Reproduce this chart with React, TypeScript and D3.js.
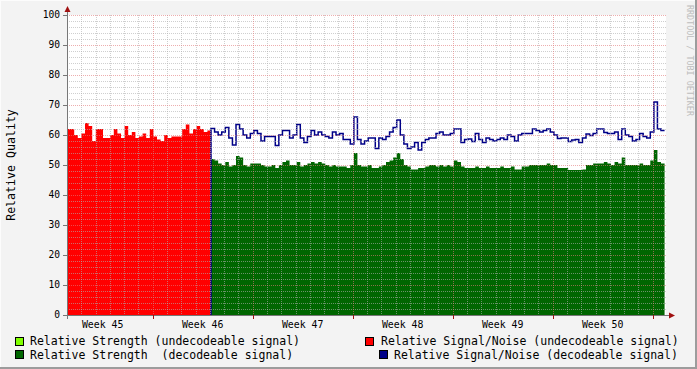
import React from "react";
import * as d3 from "d3";

// values, one sample every 6 hours
const redValues = [
  62, 62, 60, 59, 60.5, 64, 63, 58, 62, 62, 59, 59, 60, 62, 60.5, 59, 63, 60, 61, 59,
  59.5, 60.5, 59, 62, 59.5, 58.5, 58, 60, 59, 59.5, 59.5, 59.5, 62, 63.5, 60.5, 62, 63, 62, 61, 61.5,
];
const greenValues = [
  52, 51.5, 50.5, 50, 51, 49.5, 50, 53, 52.5, 50, 49.5, 50.5, 50.5, 50.5, 50, 49.5, 49.5, 50, 49, 50,
  51, 51.5, 50, 50, 51, 49.5, 50, 50.5, 51, 50.5, 51, 50.5, 50, 49.5, 50, 49.5, 49.5, 49.5, 49, 50,
  54, 50, 49.5, 49.5, 50, 49, 49, 49.5, 50, 51, 51.5, 52.5, 54, 52, 50, 49.5, 48.5, 48.5, 49, 49,
  49.5, 50, 50, 49.5, 50, 49.5, 50, 49.5, 51.5, 51, 49.5, 49, 49, 49, 49.5, 49, 49, 49.5, 49, 49,
  49, 49.5, 49, 49, 49.5, 48.5, 48.5, 49.5, 49.5, 50, 50, 50, 50, 50, 50.5, 50, 50, 49, 49, 49,
  48.3, 48.3, 48.3, 48.3, 48.5, 50, 50, 50.5, 50.5, 50.5, 51, 50.5, 50, 51, 50.5, 52.5, 50, 50, 50, 50,
  50.5, 50, 50, 51.5, 55, 51, 50.5,
];
const blueValues = [
  62.2, 61, 60, 61, 62.5, 59, 56.7, 63.5, 62, 60, 59, 60.5, 61.5, 60.5, 58, 59.5, 59.5, 59.5, 56.5, 60,
  61.5, 61.5, 59, 60, 63.5, 59, 57.5, 59.5, 61.5, 60, 61, 60, 59.5, 59, 61, 60, 60.5, 58.5, 58.5, 57,
  66, 58.5, 57, 58, 59, 59, 55.5, 59, 58.5, 59.5, 61, 62.5, 65, 60, 57, 55.5, 56, 57.5, 55, 57.5,
  58.5, 59, 59, 60.5, 61, 60, 60, 60.5, 62, 62, 57.5, 58.5, 58.7, 57.8, 60.5, 58.5, 57.5, 59, 58.5, 58,
  58.5, 59, 58.5, 60, 59.5, 58, 60, 60.5, 60.5, 60.5, 62, 61.5, 61, 61.5, 62, 61, 60, 58.8, 59, 59,
  57.8, 58.3, 58.5, 57.5, 59, 60.3, 59.8, 60.5, 62, 62, 60.8, 60.5, 60.5, 61, 58.5, 62, 60, 59.5, 58, 58.5,
  60.5, 59.5, 59, 61, 71, 62, 61.5,
];
const weekLabels = ["Week 45", "Week 46", "Week 47", "Week 48", "Week 49", "Week 50"];
const yTicks = [0, 10, 20, 30, 40, 50, 60, 70, 80, 90, 100];

const RED_STEP = 0.252; // days per sample
const STEP = 0.25;
const RED_START = 0;
const DECODE_START = 10.08;

const W = 697;
const H = 369;
const left = 67;
const right = 666;
const top = 15;
const bottom = 315;
const mono = "'DejaVu Sans Mono', monospace";

function Chart() {
  const x = d3.scaleLinear().domain([0, 7]).range([left, left + 100]);
  const y = d3.scaleLinear().domain([0, 100]).range([bottom, top]);

  const toPts = (vals: number[], start: number, step: number) => {
    const pts = vals.map((v, i) => [start + i * step, v] as [number, number]);
    pts.push([start + vals.length * step, vals[vals.length - 1]]);
    return pts;
  };

  const area = d3
    .area<[number, number]>()
    .x((d) => x(d[0]))
    .y0(y(0))
    .y1((d) => y(d[1]))
    .curve(d3.curveStepAfter);
  const line = d3
    .line<[number, number]>()
    .x((d) => x(d[0]))
    .y((d) => y(d[1]))
    .curve(d3.curveStepAfter);

  const redPts = toPts(redValues, RED_START, RED_STEP);
  const greenPts = toPts(greenValues, DECODE_START, STEP);
  const bluePts: [number, number][] = [[DECODE_START, 0], ...toPts(blueValues, DECODE_START, STEP)];

  // grid: minor every 2 units / every day, major every 10 units / every week
  const minorY = d3.range(0, 101, 2);
  const days = d3.range(1, 42);
  const weekStarts = [-1, 6, 13, 20, 27, 34, 41];
  const px = (v: number) => Math.round(v) + 0.5;

  return (
    <svg width={W} height={H} style={{ display: "block", position: "absolute", left: 0, top: 0 }}>
      <defs>
        <clipPath id="plot">
          <rect x={left} y={0} width={right - left} height={bottom} />
        </clipPath>
      </defs>
      <rect x={0} y={0} width={W} height={H} fill="#f3f3f3" />
      <line x1={0} y1={0.5} x2={W} y2={0.5} stroke="#fcfcfc" />
      <line x1={0.5} y1={0} x2={0.5} y2={H} stroke="#fcfcfc" />
      <line x1={0} y1={H - 1} x2={W} y2={H - 1} stroke="#9c9c9c" strokeWidth={2} />
      <line x1={W - 1} y1={0} x2={W - 1} y2={H} stroke="#9c9c9c" strokeWidth={2} />

      <rect x={left} y={top} width={right - left} height={bottom - top} fill="#ffffff" />

      <g clipPath="url(#plot)">
        <path d={area(greenPts) || ""} fill="#006600" />
        <path d={area(redPts) || ""} fill="#ff0000" />
        <path d={line(bluePts) || ""} fill="none" stroke="#000088" strokeWidth={1.5} />
      </g>

      {minorY.filter((v) => v % 10 !== 0).map((v) => (
        <line key={"my" + v} x1={left} x2={right} y1={y(v) + 0.5} y2={y(v) + 0.5}
          stroke="rgba(175,175,175,0.6)" strokeDasharray="1,1" />
      ))}
      {days.filter((d) => !weekStarts.includes(d) && x(d) < right).map((d) => (
        <line key={"mx" + d} x1={px(x(d))} x2={px(x(d))} y1={top} y2={bottom}
          stroke="rgba(175,175,175,0.6)" strokeDasharray="1,1" />
      ))}
      {yTicks.filter((v) => v > 0).map((v) => (
        <line key={"My" + v} x1={left} x2={right} y1={y(v) + 0.5} y2={y(v) + 0.5}
          stroke="rgba(225,120,120,0.6)" strokeDasharray="1,1" />
      ))}
      {weekStarts.filter((d) => d > 0 && x(d) < right).map((d) => (
        <line key={"Mx" + d} x1={px(x(d))} x2={px(x(d))} y1={top} y2={bottom}
          stroke="rgba(225,120,120,0.6)" strokeDasharray="1,1" />
      ))}

      {/* axes */}
      <line x1={left + 0.5} x2={left + 0.5} y1={10} y2={bottom + 4} stroke="#777" />
      <line x1={left - 4} x2={right + 5} y1={bottom + 0.5} y2={bottom + 0.5} stroke="#777" />
      <path d={`M${left - 2.5},${12} L${left + 3.5},${12} L${left + 0.5},${6} Z`} fill="#a01010" />
      <path d={`M${right + 3},${bottom - 2.5} L${right + 3},${bottom + 3.5} L${right + 9},${bottom + 0.5} Z`} fill="#a01010" />

      {yTicks.map((v) => (
        <g key={"yt" + v}>
          <line x1={left - 4} x2={left} y1={y(v) + 0.5} y2={y(v) + 0.5} stroke="#777" />
          <text x={60} y={y(v)} dy="0.35em" textAnchor="end" fontFamily={mono} fontSize={9.6} fill="#000">
            {v}
          </text>
        </g>
      ))}
      {weekStarts.filter((d) => d > 0 && x(d) < right).map((d) => (
        <line key={"xt" + d} x1={px(x(d))} x2={px(x(d))} y1={bottom} y2={bottom + 4}
          stroke="#a01010" />
      ))}
      {weekLabels.map((w, i) => (
        <text key={w} x={x(weekStarts[i] + 3.5)} y={328} textAnchor="middle" fontFamily={mono} fontSize={9.9} fill="#000">
          {w}
        </text>
      ))}

      <text transform="translate(15,165) rotate(-90)" textAnchor="middle" fontFamily={mono} fontSize={11.6} fill="#000">
        Relative Quality
      </text>
      <text transform="translate(687,5) rotate(90)" fontFamily={mono} fontSize={8.4} fill="#bdbdbd">
        RRDTOOL / TOBI OETIKER
      </text>

      {/* legend */}
      <rect x={15.5} y={337.5} width={8} height={8} fill="#80ff00" stroke="#000" />
      <text x={30} y={345} fontFamily={mono} fontSize={11.5} fill="#000" style={{ whiteSpace: "pre" }}>
        Relative Strength (undecodeable signal)
      </text>
      <rect x={365.5} y={337.5} width={8} height={8} fill="#ff0000" stroke="#000" />
      <text x={381} y={345} fontFamily={mono} fontSize={11.5} fill="#000">
        Relative Signal/Noise (undecodeable signal)
      </text>
      <rect x={15.5} y={350.5} width={8} height={8} fill="#006600" stroke="#000" />
      <text x={30} y={359} fontFamily={mono} fontSize={11.5} fill="#000" style={{ whiteSpace: "pre" }}>
        {"Relative Strength  (decodeable signal)"}
      </text>
      <rect x={379.5} y={350.5} width={8} height={8} fill="#000088" stroke="#000" />
      <text x={394} y={359} fontFamily={mono} fontSize={11.5} fill="#000">
        Relative Signal/Noise (decodeable signal)
      </text>
    </svg>
  );
}

export default function App() {
  return <Chart />;
}
